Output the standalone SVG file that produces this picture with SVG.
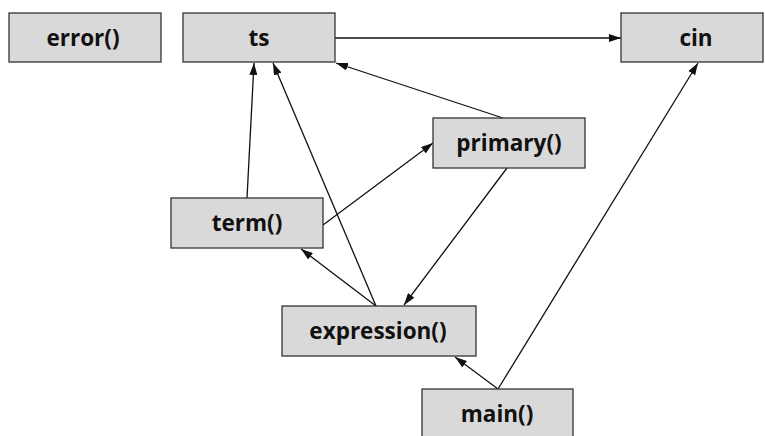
<svg xmlns="http://www.w3.org/2000/svg" width="765" height="436" viewBox="0 0 765 436">
<defs>
<style>
.box{fill:#d9d9d9;stroke:#333;stroke-width:1.3}
.lbl{font-family:"Open Sans","DejaVu Sans",sans-serif;font-weight:bold;font-size:22.5px;fill:#111;text-anchor:middle}
.edge{stroke:#111;stroke-width:1.3;fill:none;marker-end:url(#ah)}
</style>
<marker id="ah" viewBox="0 0 12 8" refX="12" refY="4" markerWidth="12" markerHeight="8" markerUnits="userSpaceOnUse" orient="auto">
<path d="M0,0 L12,4 L0,8 Z" fill="#111"/>
</marker>
</defs>
<rect width="765" height="436" fill="#fff"/>
<g id="connectors">
<line class="edge" x1="335" y1="38" x2="621" y2="38"/>
<line class="edge" x1="503" y1="118" x2="336" y2="63"/>
<line class="edge" x1="247" y1="198" x2="254" y2="63"/>
<line class="edge" x1="323" y1="225" x2="433" y2="143"/>
<line class="edge" x1="376" y1="306" x2="273" y2="63"/>
<line class="edge" x1="376" y1="306" x2="301" y2="249"/>
<line class="edge" x1="507" y1="168" x2="404" y2="305"/>
<line class="edge" x1="498" y1="389" x2="455" y2="357"/>
<line class="edge" x1="498" y1="389" x2="698" y2="63"/>
</g>
<g id="error"><rect class="box" x="9" y="13" width="152" height="49"/><text class="lbl" x="83" y="46">error()</text></g>
<g id="ts"><rect class="box" x="183" y="13" width="152" height="49"/><text class="lbl" x="259" y="46">ts</text></g>
<g id="cin"><rect class="box" x="621" y="13" width="142" height="49"/><text class="lbl" x="696" y="46">cin</text></g>
<g id="primary"><rect class="box" x="433" y="118" width="152" height="50"/><text class="lbl" x="509" y="151">primary()</text></g>
<g id="term"><rect class="box" x="171" y="198" width="152" height="50"/><text class="lbl" x="247" y="231">term()</text></g>
<g id="expression"><rect class="box" x="282" y="306" width="194" height="50"/><text class="lbl" x="378" y="339">expression()</text></g>
<g id="main"><rect class="box" x="422" y="389" width="151" height="55"/><text class="lbl" x="497" y="422">main()</text></g>
</svg>
